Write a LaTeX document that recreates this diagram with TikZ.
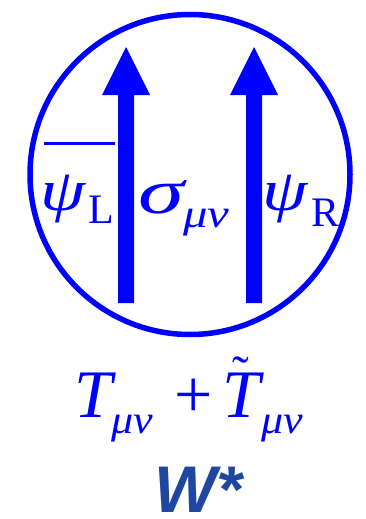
\documentclass[tikz,border=0pt]{standalone}
\usepackage{graphicx}
\usepackage{fontspec}
\setmainfont{Liberation Serif}
\newfontfamily\wfont{Liberation Sans}
\definecolor{pblue}{RGB}{0,0,255}
\definecolor{wblue}{RGB}{31,71,160}
\begin{document}
\begin{tikzpicture}[x=1pt,y=-1pt,
  lbl/.style={inner sep=0pt,outer sep=0pt,anchor=base west,text=pblue},
  sub/.style={lbl,font=\fontsize{40}{44}\selectfont\itshape},
  bigarrow/.style={fill=pblue,draw=none}]
\useasboundingbox (0,0) rectangle (366,519);
\node[draw=pblue,line width=5.5pt,circle,minimum size=320pt,inner sep=0pt] (c) at (190,174.5) {};
% arrows
\fill[bigarrow] (118,303) -- (118,95) -- (102,95) -- (126,47) -- (150,95) -- (134,95) -- (134,303) -- cycle;
\fill[bigarrow] (246,303) -- (246,95) -- (230,95) -- (254,47) -- (278,95) -- (262,95) -- (262,303) -- cycle;
% labels
\node[lbl,font=\fontsize{56}{60}\selectfont\itshape] (psiL) at (40,210) {\scalebox{1.3}[1.05]{ψ}};
\draw[pblue,line width=3pt] (44,143.5) -- (115,143.5);
\node[lbl,font=\fontsize{42}{46}\selectfont] (L) at (88,223) {L};
\node[lbl,font=\fontsize{62}{66}\selectfont\itshape] (sig) at (138,213) {\scalebox{1.5}[1.03]{σ}};
\node[sub] (mn1) at (183,227) {\scalebox{1.22}[1]{μν}};
\node[lbl,font=\fontsize{56}{60}\selectfont\itshape] (psiR) at (262,210) {\scalebox{1.3}[1.05]{ψ}};
\node[lbl,font=\fontsize{42}{46}\selectfont] (R) at (311,226) {R};
% bottom formula
\node[lbl,font=\fontsize{68}{72}\selectfont\itshape] (T1) at (74,417) {T};
\node[sub] (mn2) at (111,433) {\scalebox{1.1}[1]{μν}};
\node[lbl,font=\fontsize{68}{72}\selectfont] (plus) at (174,417) {+};
\node[lbl,font=\fontsize{68}{72}\selectfont\itshape] (T2) at (222,417) {T};
\node[sub] (mn3) at (261,433) {\scalebox{1.1}[1]{μν}};
\node[lbl,font=\fontsize{50}{54}\selectfont] (tl) at (232,390) {\char"02DC};
% W*
\node[inner sep=0pt,anchor=base west,text=wblue,text depth=0pt,font=\wfont\fontsize{66}{70}\selectfont\bfseries\itshape] (w) at (154,512) {W*};
\end{tikzpicture}
\end{document}
